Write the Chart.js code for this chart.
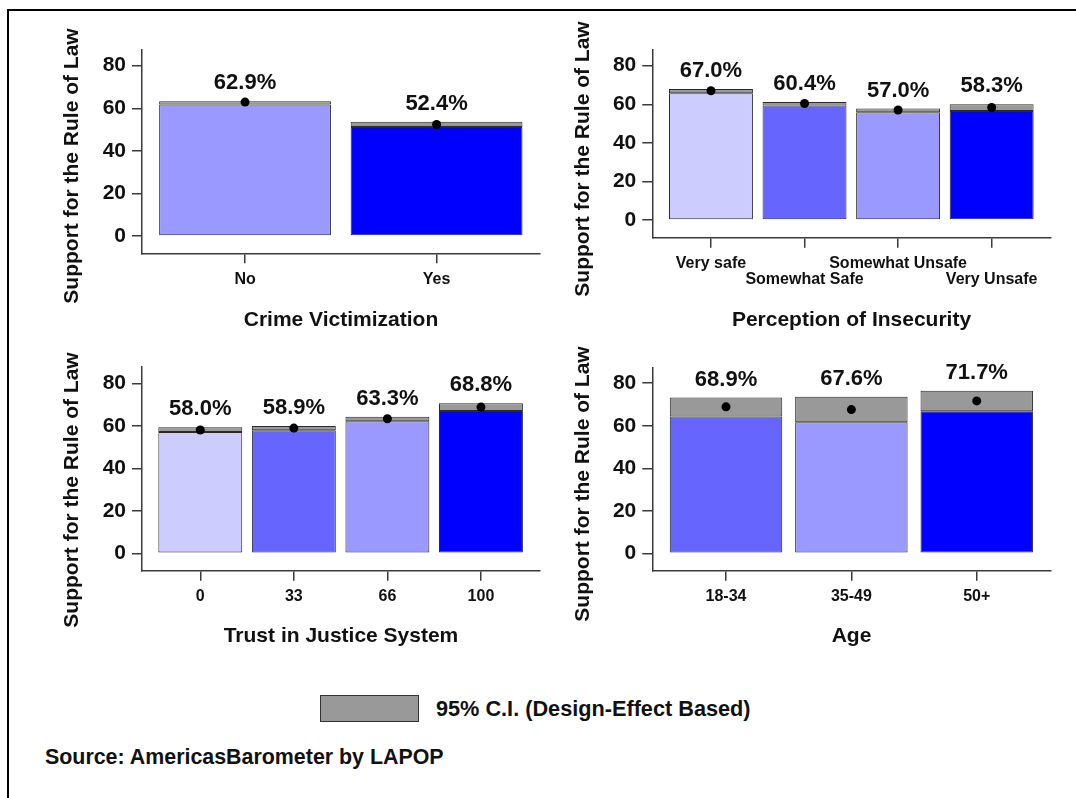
<!DOCTYPE html>
<html>
<head>
<meta charset="utf-8">
<script src="https://cdn.jsdelivr.net/npm/chart.js@4.4.1/dist/chart.umd.min.js"></script>
<style>
  html, body { margin: 0; padding: 0; background: #fff; }
  body { width: 1076px; height: 798px; position: relative; overflow: hidden;
         font-family: "Liberation Sans", Arial, Helvetica, sans-serif; }
  #frame { position: absolute; left: 7px; top: 9px; width: 1100px; height: 820px;
           border-top: 2px solid #000; border-left: 2px solid #000; }
  canvas { position: absolute; }
  #legendBox { position: absolute; left: 320px; top: 695px; width: 97px; height: 25px;
               background: #999999; border: 1px solid #333; }
  #legendText { position: absolute; left: 436px; top: 696px; font-weight: bold; font-size: 21.7px;
                line-height: 26px; color: #111; white-space: nowrap; }
  #source { position: absolute; left: 45px; top: 744px; font-weight: bold; font-size: 21.4px;
            line-height: 26px; color: #111; white-space: nowrap; }
</style>
</head>
<body>
<div id="frame"></div>
<canvas id="c1" width="530" height="320" style="left:20px;top:20px"></canvas>
<canvas id="c2" width="525" height="320" style="left:545px;top:20px"></canvas>
<canvas id="c3" width="530" height="320" style="left:20px;top:340px"></canvas>
<canvas id="c4" width="525" height="320" style="left:545px;top:340px"></canvas>
<div id="legendBox"></div>
<div id="legendText">95% C.I. (Design-Effect Based)</div>
<div id="source">Source: AmericasBarometer by LAPOP</div>
<script>
// ---------------- DATA ----------------
const yAxisTitle = 'Support for the Rule of Law';
const yTickValues = [0, 20, 40, 60, 80];

const victimCats  = ['No', 'Yes'];
const victimMeans = [62.9, 52.4];
const victimLow   = [61.8, 51.2];
const victimHigh  = [63.3, 53.7];

const insecCats  = ['Very safe', 'Somewhat Safe', 'Somewhat Unsafe', 'Very Unsafe'];
const insecMeans = [67.0, 60.4, 57.0, 58.3];
const insecLow   = [65.7, 59.4, 55.8, 56.5];
const insecHigh  = [67.9, 61.2, 57.8, 60.0];

const trustCats  = ['0', '33', '66', '100'];
const trustMeans = [58.0, 58.9, 63.3, 68.8];
const trustLow   = [57.1, 57.9, 62.1, 67.0];
const trustHigh  = [59.3, 59.9, 64.3, 70.6];

const ageCats  = ['18-34', '35-49', '50+'];
const ageMeans = [68.9, 67.6, 71.7];
const ageLow   = [64.3, 61.6, 66.8];
const ageHigh  = [73.3, 73.6, 76.5];

// ---------------- STYLE ----------------
const FONT = '"Liberation Sans", Arial, Helvetica, sans-serif';
const C_LIGHT = '#CCCCFF', C_MID = '#6666FF', C_MIDL = '#9999FF', C_FULL = '#0000FF';
const CI_COLOR = '#999999';
const EDGE = '#2a2a2a';
const AXIS = '#3a3a3a';

const panels = [
  { id: 'c1', cats: victimCats, means: victimMeans, low: victimLow, high: victimHigh,
    colors: [C_MIDL, C_FULL], xTitle: 'Crime Victimization',
    canvas: { l: 20, t: 20, w: 530, h: 320 }, area: { l: 142, t: 49.3, r: 540, b: 253.3 },
    xRange: [-0.538, 1.54], yRange: [-8.1, 87.7], stagger: false, xTitleY: 320, yTitlePos: [72, 166] },
  { id: 'c2', cats: insecCats, means: insecMeans, low: insecLow, high: insecHigh,
    colors: [C_LIGHT, C_MID, C_MIDL, C_FULL], xTitle: 'Perception of Insecurity',
    canvas: { l: 545, t: 20, w: 525, h: 320 }, area: { l: 652.3, t: 49.3, r: 1050.7, b: 237.7 },
    xRange: [-0.627, 3.631], yRange: [-9.2, 88.5], stagger: true, xTitleY: 320, yTitlePos: [583, 159] },
  { id: 'c3', cats: trustCats, means: trustMeans, low: trustLow, high: trustHigh,
    colors: [C_LIGHT, C_MID, C_MIDL, C_FULL], xTitle: 'Trust in Justice System',
    canvas: { l: 20, t: 340, w: 530, h: 320 }, area: { l: 142, t: 366.7, r: 540, b: 570.7 },
    xRange: [-0.623, 3.631], yRange: [-8.2, 87.8], stagger: false, xTitleY: 636, yTitlePos: [72, 490] },
  { id: 'c4', cats: ageCats, means: ageMeans, low: ageLow, high: ageHigh,
    colors: [C_MID, C_MIDL, C_FULL], xTitle: 'Age',
    canvas: { l: 545, t: 340, w: 525, h: 320 }, area: { l: 652.3, t: 367.3, r: 1050.7, b: 570.7 },
    xRange: [-0.588, 2.59], yRange: [-8.2, 87.5], stagger: false, xTitleY: 636, yTitlePos: [583, 484] }
];

const annotPlugin = {
  id: 'annot',
  afterDatasetsDraw(chart) {
    const p = chart.$panel;
    const ctx = chart.ctx, xs = chart.scales.x, ys = chart.scales.y;
    ctx.save();
    ctx.fillStyle = '#111';
    ctx.textAlign = 'center';
    ctx.textBaseline = 'middle';
    ctx.font = 'bold 22px ' + FONT;
    p.means.forEach((m, i) => {
      ctx.fillText(m.toFixed(1) + '%', xs.getPixelForValue(i), ys.getPixelForValue(p.high[i]) - 18);
    });
    ctx.translate(p.yTitlePos[0] - p.canvas.l, p.yTitlePos[1] - p.canvas.t);
    ctx.rotate(-Math.PI / 2);
    ctx.font = 'bold 21px ' + FONT;
    ctx.fillText(yAxisTitle, 0, 0);
    ctx.restore();
  }
};

panels.forEach(p => {
  const idx = p.cats.map((c, i) => i);
  const yAxisWidth = p.area.l - p.canvas.l;
  const xAxisHeight = p.canvas.t + p.canvas.h - p.area.b;
  new Chart(document.getElementById(p.id), {
    type: 'bar',
    data: {
      datasets: [
        { type: 'bar', data: idx.map(i => ({ x: i, y: [0, p.low[i]] })),
          backgroundColor: p.colors, borderColor: EDGE, borderWidth: 1, borderSkipped: false,
          grouped: false, barPercentage: 0.897, categoryPercentage: 1, order: 3 },
        { type: 'bar', data: idx.map(i => ({ x: i, y: [p.low[i], p.high[i]] })),
          backgroundColor: CI_COLOR, borderColor: EDGE, borderWidth: 1, borderSkipped: false,
          grouped: false, barPercentage: 0.897, categoryPercentage: 1, order: 2 },
        { type: 'scatter', data: idx.map(i => ({ x: i, y: p.means[i] })),
          pointRadius: 4.5, pointBackgroundColor: '#000', pointBorderColor: '#000', pointBorderWidth: 0, order: 1 }
      ]
    },
    options: {
      responsive: false, maintainAspectRatio: false, animation: false,
      layout: { padding: { left: 0, bottom: 0, top: p.area.t - p.canvas.t, right: p.canvas.l + p.canvas.w - p.area.r } },
      plugins: { legend: { display: false }, tooltip: { enabled: false } },
      scales: {
        x: {
          type: 'linear', min: p.xRange[0], max: p.xRange[1], offset: false,
          afterBuildTicks: s => { s.ticks = idx.map(v => ({ value: v })); },
          afterFit: s => { s.height = xAxisHeight; },
          grid: { display: true, drawOnChartArea: false, drawTicks: true, tickLength: 10, color: AXIS, lineWidth: 1.5, offset: false },
          border: { display: true, color: AXIS, width: 1.5 },
          ticks: { autoSkip: false, maxRotation: 0, minRotation: 0, padding: 8, color: '#111',
                   font: { family: FONT, size: 16, weight: 'bold', lineHeight: 1 },
                   callback: v => (p.stagger && v % 2 === 1) ? ['', p.cats[v]] : p.cats[v] },
          title: { display: true, text: p.xTitle, color: '#111',
                   font: { family: FONT, size: 21, weight: 'bold', lineHeight: 1.2 },
                   padding: { top: 0, bottom: (p.canvas.t + p.canvas.h - p.xTitleY) - 12.6 } }
        },
        y: {
          type: 'linear', min: p.yRange[0], max: p.yRange[1],
          afterBuildTicks: s => { s.ticks = yTickValues.map(v => ({ value: v })); },
          afterFit: s => { s.width = yAxisWidth; },
          grid: { display: true, drawOnChartArea: false, drawTicks: true, tickLength: 10, color: AXIS, lineWidth: 1.5 },
          border: { display: true, color: AXIS, width: 1.5 },
          ticks: { padding: 6, color: '#111', font: { family: FONT, size: 21, weight: 'bold' } }
        }
      }
    },
    plugins: [{ id: 'panelRef', beforeInit(ch) { ch.$panel = p; } }, annotPlugin]
  });
});
</script>
</body>
</html>
